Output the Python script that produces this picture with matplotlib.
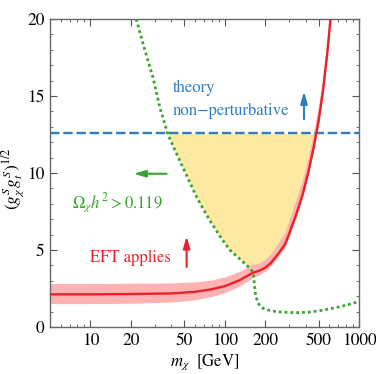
import matplotlib
matplotlib.use("Agg")
import matplotlib.pyplot as plt
import numpy as np

plt.rcParams['font.family'] = ['STIXGeneral', 'DejaVu Serif']
plt.rcParams['mathtext.fontset'] = 'stix'

# EFT validity limit (red) with its uncertainty band
m_eft = [5, 10, 20, 40, 60, 80, 100, 130, 160, 180, 200, 220, 250, 280, 300,
         340, 380, 420, 460, 500, 540, 580, 620]
eft = [2.12, 2.12, 2.14, 2.18, 2.28, 2.45, 2.65, 3.05, 3.5, 3.65, 3.85, 4.15,
       4.75, 5.35, 6.0, 7.3, 8.6, 10.1, 11.7, 13.4, 15.4, 17.8, 20.5]
eft_hi = [2.82, 2.82, 2.84, 2.86, 2.93, 3.05, 3.25, 3.62, 4.05, 4.15, 4.4, 4.75,
          5.45, 6.15, 6.9, 8.3, 9.6, 11.1, 12.7, 14.4, 16.4, 18.8, 21.5]
eft_lo = [1.52, 1.52, 1.54, 1.62, 1.76, 1.98, 2.23, 2.68, 3.18, 3.38, 3.62, 3.95,
          4.55, 5.15, 5.8, 7.1, 8.4, 9.9, 11.5, 13.2, 15.2, 17.6, 20.3]

# relic abundance contour (green)
m_relic = [21.9, 25, 29.2, 33, 37.8, 44, 51, 62, 77, 92, 109, 130, 149, 163,
           166, 170, 180, 193, 215, 243, 290, 343, 420, 511, 600, 721, 850, 1000]
relic = [20, 18.2, 16.2, 14.2, 12.5, 11.2, 10.0, 8.4, 6.95, 5.9, 5.0, 4.4, 3.93,
         3.55, 2.8, 2.0, 1.45, 1.21, 1.08, 0.99, 0.95, 0.93, 0.96, 1.06, 1.17,
         1.32, 1.47, 1.66]

pert_limit = 4 * np.pi

red = '#e8222a'
pink = '#fdb3b3'
blue = '#2f7dbf'
green = '#3aa52e'
yellow = '#fde9a2'

fig = plt.figure(figsize=(3.76, 3.74), dpi=100)
ax = fig.add_axes([0.133, 0.1257, 0.822, 0.8235])

# allowed region
mm = np.logspace(np.log10(m_relic[0]), np.log10(m_eft[-1]), 600)
lo = np.maximum(np.interp(np.log(mm), np.log(m_eft), eft),
                np.interp(np.log(mm), np.log(m_relic), relic))
ax.fill_between(mm, lo, pert_limit, where=lo < pert_limit, color=yellow,
                lw=0, zorder=1)

ax.fill_between(m_eft, eft_lo, eft_hi, color=pink, lw=0, zorder=2)
ax.plot(m_eft, eft, color=red, lw=1.7, zorder=4)
ax.plot(m_relic, relic, color=green, lw=2.0, ls=(0, (1, 1.1)), zorder=3)
ax.axhline(pert_limit, color=blue, lw=1.7, ls=(0, (4, 1.6)), zorder=3)

ax.text(40.9, 15.5, 'theory', color=blue, fontsize=12, va='center')
ax.text(40.9, 14.05, 'non\u2212perturbative', color=blue, fontsize=12, va='center')
ax.text(7.35, 8.05, r'$\Omega_\chi h^2 > 0.119$', color=green, fontsize=12, va='center')
ax.text(10, 4.48, 'EFT applies', color=red, fontsize=12, va='center')

arr = dict(arrowstyle='-|>,head_length=0.7,head_width=0.2', lw=1.5,
           shrinkA=0, shrinkB=0)
ax.annotate('', xy=(389, 15.3), xytext=(389, 13.5),
            arrowprops=dict(arr, color=blue))
ax.annotate('', xy=(20.9, 9.95), xytext=(36.9, 9.95),
            arrowprops=dict(arr, color=green))
ax.annotate('', xy=(52, 5.9), xytext=(52, 3.9),
            arrowprops=dict(arr, color=red))

ax.set_xscale('log')
ax.set_xlim(5, 1000)
ax.set_ylim(0, 20)
ax.set_xticks([10, 20, 50, 100, 200, 500, 1000])
ax.set_xticklabels(['10', '20', '50', '100', '200', '500', '1000'])
ax.set_yticks([0, 5, 10, 15, 20])
ax.set_yticks(np.arange(0, 21, 1), minor=True)
ax.tick_params(which='both', direction='in', top=True, right=True,
               labelsize=12.5, color='#555555', pad=4)
ax.tick_params(which='major', length=5, width=0.8)
ax.tick_params(which='minor', length=2.5, width=0.6)
for s in ax.spines.values():
    s.set_color('#666666')
    s.set_linewidth(1.0)

ax.set_xlabel(r'$m_\chi$  [GeV]', fontsize=12, labelpad=3)
ax.set_ylabel(r'$(g^S_\chi g^S_t)^{1/2}$', fontsize=12.5)
ax.yaxis.set_label_coords(-0.078, 0.48)

fig.savefig('out.png', dpi=100)
